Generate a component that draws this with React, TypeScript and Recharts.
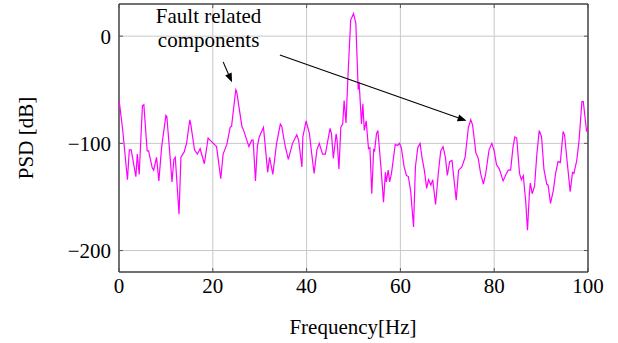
import React from "react";
import {
  LineChart,
  Line,
  XAxis,
  YAxis,
  CartesianGrid,
  ReferenceArea,
  ReferenceLine,
  ReferenceDot,
} from "recharts";

// frequency bins [Hz]
const freq = [
  0, 0.8, 1.8, 2.2, 2.6, 3.6, 3.9, 4.3, 5.0, 5.3, 6.0, 6.3, 7.1, 7.4, 8.0, 8.5, 9.1,
  10.0, 10.2, 10.9, 11.3, 11.7, 12.0, 12.8, 13.2, 13.9, 14.4, 15.1, 15.3, 16.1, 16.7,
  17.3, 18.2, 19.0, 19.4, 20.8, 21.7, 22.2, 23.0, 23.7, 24.0, 24.9, 25.1, 26.2, 26.5,
  27.7, 28.3, 28.6, 29.1, 29.5, 29.9, 30.8, 31.0, 31.7, 32.1, 32.8, 33.6, 34.4, 34.7,
  35.4, 36.1, 37.0, 37.9, 38.3, 39.0, 39.2, 39.9, 40.6, 41.1, 41.6, 42.2, 42.7, 43.4,
  44.0, 45.0, 45.3, 45.7, 46.3, 46.5, 46.9, 47.3, 47.7, 48.0, 48.4, 48.8, 49.4, 50.0,
  50.5, 51.0, 51.2, 51.7, 52.0, 52.3, 52.7, 53.2, 53.5, 53.9, 54.3, 54.5, 54.9, 55.2,
  55.9, 56.4, 56.8, 57.0, 57.4, 57.7, 58.1, 58.9, 59.4, 59.8, 60.2, 60.8, 61.3, 61.7,
  62.2, 62.8, 63.2, 63.7, 64.2, 64.6, 65.1, 65.6, 66.0, 66.5, 66.9, 67.5, 68.1, 68.6,
  69.1, 69.6, 70.0, 70.5, 71.0, 71.9, 72.4, 73.1, 73.8, 74.5, 75.0, 75.4, 76.1, 76.6,
  77.1, 77.7, 78.2, 78.9, 79.5, 80.0, 80.5, 81.1, 81.9, 82.5, 83.0, 83.5, 84.0, 84.4,
  84.8, 85.4, 85.8, 86.2, 86.7, 87.1, 87.5, 87.7, 88.1, 88.6, 89.1, 89.6, 90.1, 90.6,
  91.2, 91.5, 92.0, 92.6, 93.1, 93.6, 94.1, 94.7, 95.0, 95.6, 96.2, 96.7, 97.0, 97.6,
  98.1, 98.7, 99.0, 99.7, 100,
];

// power spectral density [dB]
const psd = [
  -59, -88, -134, -106, -106, -131, -110, -129, -65, -64, -107, -107, -123, -125, -113, -135, -103,
  -74, -75, -113, -136, -115, -113, -166, -113, -108, -100, -78, -82, -106, -110,
  -105, -119, -95, -97, -103, -133, -110, -101, -85, -84, -50, -52, -84, -87,
  -103, -97, -97, -135, -103, -94, -85, -94, -127, -113, -129, -100, -82, -84,
  -102, -115, -100, -92, -97, -122, -94, -79, -91, -110, -128, -106, -100, -110,
  -110, -86, -91, -114, -91, -97, -124, -85, -82, -60, -81, -39, 15, 21,
  12, -50, -43, -82, -63, -88, -79, -105, -104, -147, -106, -107, -91, -88,
  -125, -155, -127, -136, -125, -136, -128, -101, -102, -100, -104, -122, -130, -131,
  -145, -178, -122, -104, -100, -113, -125, -142, -134, -139, -134, -157, -127, -107,
  -103, -113, -130, -117, -116, -153, -125, -122, -113, -85, -78, -83, -109, -114,
  -128, -138, -128, -106, -100, -107, -120, -124, -135, -129, -125, -125, -104, -94,
  -95, -128, -134, -130, -153, -181, -147, -137, -147, -140, -110, -88, -94, -124,
  -138, -139, -156, -144, -128, -117, -118, -89, -92, -119, -145, -127, -128, -116,
  -97, -61, -61, -89, -85,
];

const xTicks = [0, 20, 40, 60, 80, 100];
const yTicks = [-200, -100, 0];
const xDomain = [0, 100];
const yDomain = [-220, 30];

const data = freq.map((f, i) => ({ f, psd: psd[i] }));

const W = 618;
const H = 343;
const MARGIN = { top: 4, right: 30, bottom: 0, left: 0 };
const Y_AXIS_W = 119;
const X_AXIS_H = 71;
const PLOT_TOP = MARGIN.top;
const PLOT_RIGHT = W - MARGIN.right;

const FONT = "Liberation Serif, Times New Roman, serif";
const FS = 21;
const TICK_COLOR = "#555";
const textStyle = { fontFamily: FONT, fontSize: FS, fill: "#000" };

const fmt = (v: number) => (v < 0 ? `\u2212${Math.abs(v)}` : `${v}`);

// x ticks: label below, short inward marks at bottom and top of the frame
const XTick = (props: any) => {
  const { x, y, payload } = props;
  return (
    <g>
      <line x1={x} y1={y} x2={x} y2={y - 4} stroke={TICK_COLOR} />
      <line x1={x} y1={PLOT_TOP} x2={x} y2={PLOT_TOP + 4} stroke={TICK_COLOR} />
      <text x={x} y={y + 21} textAnchor="middle" style={textStyle}>
        {fmt(payload.value)}
      </text>
    </g>
  );
};

const YTick = (props: any) => {
  const { x, y, payload } = props;
  return (
    <g>
      <line x1={x} y1={y} x2={x + 4} y2={y} stroke={TICK_COLOR} />
      <line x1={PLOT_RIGHT} y1={y} x2={PLOT_RIGHT - 4} y2={y} stroke={TICK_COLOR} />
      <text x={x - 8} y={y} dy="0.35em" textAnchor="end" style={textStyle}>
        {fmt(payload.value)}
      </text>
    </g>
  );
};

// straight arrow with a filled head at the end point
const Arrow = (props: any) => {
  const { x1, y1, x2, y2 } = props;
  const a = Math.atan2(y2 - y1, x2 - x1);
  const len = 9;
  const half = 3.5;
  const bx = x2 - len * Math.cos(a);
  const by = y2 - len * Math.sin(a);
  const px = -Math.sin(a) * half;
  const py = Math.cos(a) * half;
  return (
    <g>
      <line x1={x1} y1={y1} x2={bx} y2={by} stroke="#000" strokeWidth={1.1} />
      <polygon
        points={`${x2},${y2} ${bx + px},${by + py} ${bx - px},${by - py}`}
        fill="#000"
      />
    </g>
  );
};

const Note = (props: any) => {
  const { cx, cy } = props;
  return (
    <text x={cx} y={cy} textAnchor="middle" style={textStyle}>
      <tspan x={cx} dy={0}>Fault related</tspan>
      <tspan x={cx} dy={24}>components</tspan>
    </text>
  );
};

export default function App() {
  return (
    <div style={{ position: "absolute", left: 0, top: 0, width: W, height: H, background: "#fff" }}>
      <LineChart width={W} height={H} data={data} margin={MARGIN}>
        <CartesianGrid stroke="#c8c8c8" strokeWidth={1} />
        <XAxis
          dataKey="f"
          type="number"
          domain={xDomain}
          ticks={xTicks}
          height={X_AXIS_H}
          axisLine={false}
          tickLine={false}
          tickSize={0}
          tickMargin={0}
          tick={<XTick />}
          allowDataOverflow
        />
        <YAxis
          type="number"
          domain={yDomain}
          ticks={yTicks}
          width={Y_AXIS_W}
          axisLine={false}
          tickLine={false}
          tickSize={0}
          tickMargin={0}
          tick={<YTick />}
          allowDataOverflow
        />
        <Line
          type="linear"
          dataKey="psd"
          stroke="#ff00ff"
          strokeWidth={1.2}
          dot={false}
          isAnimationActive={false}
        />
        <ReferenceArea x1={0} x2={100} y1={-220} y2={30} fill="none" stroke="#000" strokeWidth={1} />
        <ReferenceDot x={19.1} y={12} r={0} shape={<Note />} />
        <ReferenceLine segment={[{ x: 22.2, y: -24 }, { x: 24.1, y: -43 }]} shape={<Arrow />} />
        <ReferenceLine segment={[{ x: 34.3, y: -17.5 }, { x: 74.1, y: -79 }]} shape={<Arrow />} />
      </LineChart>
      <div
        style={{
          position: "absolute",
          left: 0,
          top: 0,
          width: W,
          height: H,
          pointerEvents: "none",
          fontFamily: FONT,
          fontSize: FS,
        }}
      >
        <div
          style={{
            position: "absolute",
            left: 26,
            top: 138,
            transform: "translate(-50%, -50%) rotate(-90deg)",
            whiteSpace: "nowrap",
          }}
        >
          PSD [dB]
        </div>
        <div
          style={{
            position: "absolute",
            left: 353,
            top: 315,
            transform: "translateX(-50%)",
            whiteSpace: "nowrap",
          }}
        >
          Frequency[Hz]
        </div>
      </div>
    </div>
  );
}
